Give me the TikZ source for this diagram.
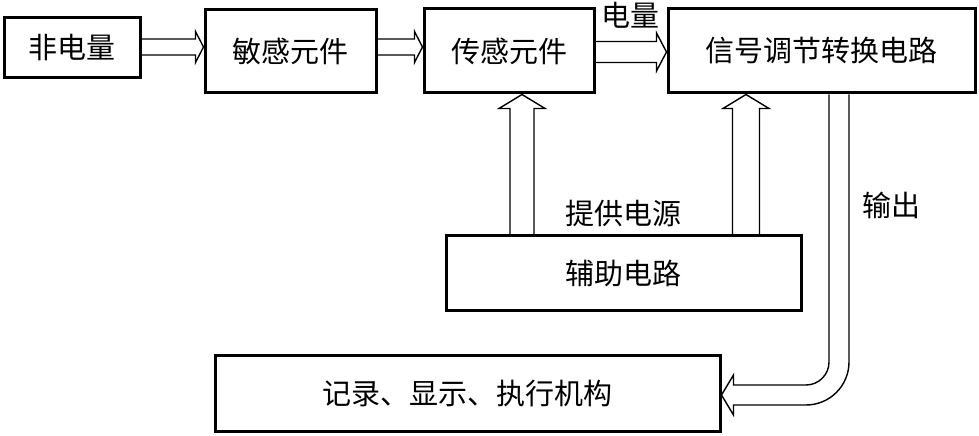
\documentclass[tikz,border=0pt]{standalone}
\usepackage{fontspec}
\setmainfont{Noto Sans CJK SC}
\usetikzlibrary{calc}
\tikzset{
  blk/.style={draw=black, line width=3pt, inner sep=0pt, font=\fontsize{29pt}{32pt}\selectfont},
  lbl/.style={inner sep=0pt, font=\fontsize{29pt}{32pt}\selectfont},
  conn/.style={draw=black, line width=1.4pt, line join=miter}
}
% horizontal hollow arrow: from, to, Y centre, half shaft, half head, head length
\newcommand{\hArrow}[6]{%
  \draw[conn] let \p1=(#1.east), \p2=(#2.west) in
    (\x1,#3pt+#4pt) -- (\x2-#6pt,#3pt+#4pt) -- (\x2-#6pt,#3pt+#5pt) -- (\x2,#3pt)
    -- (\x2-#6pt,#3pt-#5pt) -- (\x2-#6pt,#3pt-#4pt) -- (\x1,#3pt-#4pt);}
% vertical hollow arrow (upwards): from, to, X centre, half shaft, half head, head length
\newcommand{\vArrow}[6]{%
  \draw[conn] let \p1=(#1.north), \p2=(#2.south) in
    (#3pt-#4pt,\y1) -- (#3pt-#4pt,\y2-#6pt) -- (#3pt-#5pt,\y2-#6pt) -- (#3pt,\y2)
    -- (#3pt+#5pt,\y2-#6pt) -- (#3pt+#4pt,\y2-#6pt) -- (#3pt+#4pt,\y1);}
\begin{document}
\begin{tikzpicture}[x=1pt,y=1pt]
\useasboundingbox (0,0) rectangle (979,436);
% boxes
\node[blk, minimum width=136pt, minimum height=60pt] (b1) at (72,388) {非电量};
\node[blk, minimum width=171pt, minimum height=83pt] (b2) at (290.5,384.5) {敏感元件};
\node[blk, minimum width=170pt, minimum height=84pt] (b3) at (509,385) {传感元件};
\node[blk, minimum width=307pt, minimum height=84pt] (b4) at (821.5,385) {信号调节转换电路};
\node[blk, minimum width=355pt, minimum height=75pt] (aux) at (623.5,162.5) {辅助电路};
\node[blk, minimum width=505pt, minimum height=76pt] (out) at (467.5,42) {记录、显示、执行机构};
% labels
\node[lbl] (lq) at (630,421) {电量};
\node[lbl] (lp) at (623,223) {提供电源};
\node[lbl] (lo) at (891,231) {输出};
% horizontal arrows
\hArrow{b1}{b2}{389}{8}{15.5}{8}
\hArrow{b2}{b3}{389}{8}{15.5}{8}
\hArrow{b3}{b4}{384}{10.5}{19}{10}
% vertical arrows
\vArrow{aux}{b3}{522}{12}{23}{14}
\vArrow{aux}{b4}{746}{13.5}{23}{14}
% output arrow
\draw[conn] let \p1=(b4.south), \p2=(out.east) in
  (829,\y1) -- (829,74) arc[start angle=0,end angle=-90,radius=23]
  -- (\x2+12pt,51) -- (\x2+12pt,61) -- (\x2,41) -- (\x2+12pt,21) -- (\x2+12pt,31)
  -- (806,31) arc[start angle=-90,end angle=0,radius=43] -- (849,\y1);
\end{tikzpicture}
\end{document}
